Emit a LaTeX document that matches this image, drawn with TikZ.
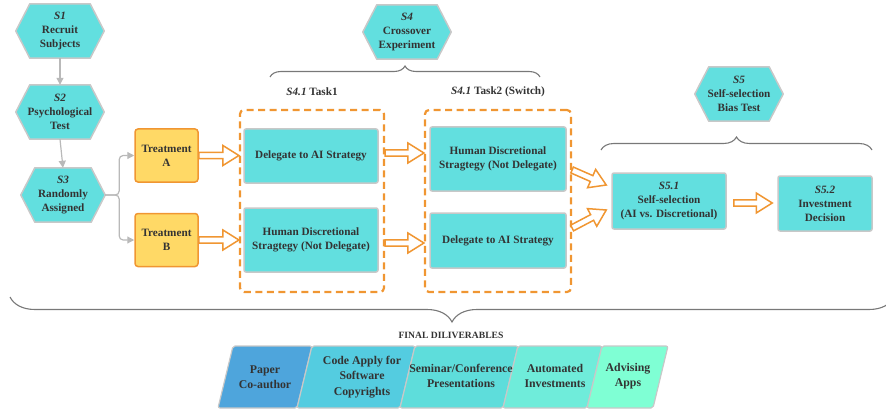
\documentclass[tikz,border=0pt]{standalone}
\usepackage{fontspec}
\setmainfont{Liberation Serif}
\usetikzlibrary{calc,decorations.pathreplacing,backgrounds,arrows.meta}

\definecolor{cyanfill}{RGB}{98,223,223}
\definecolor{bordergray}{RGB}{200,200,200}
\definecolor{txt}{RGB}{51,51,51}
\definecolor{orng}{RGB}{240,150,50}
\definecolor{yel}{RGB}{255,217,102}
\definecolor{conngray}{RGB}{185,185,185}
\definecolor{brgray}{RGB}{120,120,120}
\definecolor{pA}{RGB}{78,165,220}
\definecolor{pB}{RGB}{84,204,224}
\definecolor{pC}{RGB}{94,221,219}
\definecolor{pD}{RGB}{111,236,218}
\definecolor{pE}{RGB}{127,255,212}

\newcommand{\myhex}[4]{%
  \node[hexbox, minimum width=#2] (#1) at (#3) {#4};
  \begin{pgfonlayer}{background}
    \draw[hexdraw] (#1.west) -- ([xshift=14pt]#1.north west) -- ([xshift=-14pt]#1.north east)
      -- (#1.east) -- ([xshift=-14pt]#1.south east) -- ([xshift=14pt]#1.south west) -- cycle;
  \end{pgfonlayer}}

\newcommand{\harr}[2]{%
  \coordinate (hc) at ($(#2)!16pt!(#1)$);
  \draw[harrow] ($(#1)!3.2pt!90:(#2)$) -- ($(hc)!3.2pt!90:(#2)$) -- ($(hc)!10pt!90:(#2)$)
    -- (#2) -- ($(hc)!10pt!-90:(#2)$) -- ($(hc)!3.2pt!-90:(#2)$) -- ($(#1)!3.2pt!-90:(#2)$) -- cycle;}

\tikzset{
  every node/.style={text=txt, font=\bfseries\fontsize{11.2}{14}\selectfont},
  hexbox/.style={minimum height=54pt, inner sep=0pt, align=center},
  hexdraw/.style={fill=cyanfill, draw=bordergray, line width=1.5pt, line join=round},
  cbox/.style={fill=cyanfill, draw=bordergray, line width=1.5pt, rounded corners=2pt, align=center, inner sep=0pt},
  treat/.style={fill=yel, draw=orng, line width=1.5pt, rounded corners=3pt, align=center,
    minimum width=63pt, minimum height=53pt, inner sep=0pt},
  dashbox/.style={draw=orng, line width=2.2pt, dash pattern=on 7pt off 4.5pt, rounded corners=4pt, inner sep=0pt},
  garrow/.style={draw=conngray, line width=1.2pt, rounded corners=4pt, -{Triangle[length=7pt,width=7pt]}},
  harrow/.style={draw=orng, fill=white, line width=1.5pt, line join=miter},
  brc/.style={draw=brgray, line width=1.1pt, decorate, decoration={brace, amplitude=#1}},
  tasklbl/.style={font=\bfseries\fontsize{11.2}{14}\selectfont},
  para/.style={draw=bordergray, line width=1.2pt, rounded corners=2pt},
  ptext/.style={align=center, font=\bfseries\fontsize{11.8}{15.5}\selectfont}
}

\begin{document}
\begin{tikzpicture}[x=1pt,y=-1pt]
\useasboundingbox (0,0) rectangle (886,409);

% hexagons
\myhex{s1}{88pt}{60,31}{\textit{S1}\\Recruit\\Subjects}
\myhex{s2}{88pt}{60,112}{\textit{S2}\\Psychological\\Test}
\myhex{s3}{84pt}{63,195}{\textit{S3}\\Randomly\\Assigned}
\myhex{s4}{88pt}{407,32}{\textit{S4}\\Crossover\\Experiment}
\myhex{s5}{88pt}{739,94}{\textit{S5}\\Self-selection\\Bias Test}

% gray connectors
\draw[garrow] (s1.south) -- (s2.north);
\draw[garrow] (s2.south) -- (s3.north);

% treatments
\node[treat] (tA) at (166.5,155.5) {Treatment\\A};
\node[treat] (tB) at (166.5,240) {Treatment\\B};
\draw[garrow] (s3.east) -- ++(14,0) |- (tA.west);
\draw[garrow] (s3.east) -- ++(14,0) |- (tB.west);

% dashed task boxes
\node[dashbox, minimum width=144pt, minimum height=182pt] (box1) at (312,201) {};
\node[dashbox, minimum width=146pt, minimum height=182pt] (box2) at (498,201) {};
\node[tasklbl] (t1lbl) at (312,92) {\textit{S4.1} Task1};
\node[tasklbl] (t2lbl) at (498,92) {\textit{S4.1} Task2 (Switch)};

% inner boxes
\node[cbox, minimum width=134pt, minimum height=54pt] (d1) at (311,156) {Delegate to AI Strategy};
\node[cbox, minimum width=134pt, minimum height=64pt] (h1) at (311,240) {Human Discretional\\Stragtegy (Not Delegate)};
\node[cbox, minimum width=136pt, minimum height=64pt] (h2) at (498,159) {Human Discretional\\Stragtegy (Not Delegate)};
\node[cbox, minimum width=136pt, minimum height=55pt] (d2) at (498,240.5) {Delegate to AI Strategy};

% S5 boxes
\node[cbox, minimum width=114pt, minimum height=56pt] (s51) at (669,201) {\textit{S5.1}\\Self-selection\\(AI vs. Discretional)};
\node[cbox, minimum width=94pt, minimum height=55pt] (s52) at (825,203.5) {\textit{S5.2}\\Investment\\Decision};

% hollow arrow end points
\coordinate (a1s) at (tA.east);
\coordinate (a1e) at (tA.east -| box1.west);
\coordinate (a2s) at (tB.east);
\coordinate (a2e) at (tB.east -| box1.west);
\coordinate (a3s) at ($(box1.east)+(0,-48)$);
\coordinate (a3e) at ($(box2.west)+(0,-48)$);
\coordinate (a4s) at ($(box1.east)+(0,42)$);
\coordinate (a4e) at ($(box2.west)+(0,42)$);
\coordinate (a5s) at ($(box2.east)+(0,-31)$);
\coordinate (a5e) at ($(s51.west)+(-5,-16)$);
\coordinate (a6s) at ($(box2.east)+(0,27)$);
\coordinate (a6e) at ($(s51.west)+(-5,9)$);
\coordinate (a7s) at ($(s51.east)+(7,2)$);
\coordinate (a7e) at ($(s52.west)+(-5,-0.5)$);

\harr{a1s}{a1e}
\harr{a2s}{a2e}
\harr{a3s}{a3e}
\harr{a4s}{a4e}
\harr{a5s}{a5e}
\harr{a6s}{a6e}
\harr{a7s}{a7e}

% braces
\draw[brc=11] (270,77) -- (540,77);
\draw[brc=13] (601,150) -- (872,150);
\draw[brc=25] (894,297) -- (10,297);

\node[font=\bfseries\fontsize{9.6}{11}\selectfont] (fin) at (451,335) {FINAL DILIVERABLES};

% deliverables
\draw[para, fill=pA] (218,408) -- (233,346) -- (312,346) -- (297,408) -- cycle;
\draw[para, fill=pB] (297,408) -- (312,346) -- (415,346) -- (400,408) -- cycle;
\draw[para, fill=pC] (400,408) -- (415,346) -- (518,346) -- (503,408) -- cycle;
\draw[para, fill=pD] (503,408) -- (518,346) -- (602,346) -- (587,408) -- cycle;
\draw[para, fill=pE] (587,408) -- (602,346) -- (668,346) -- (653,408) -- cycle;
\node[ptext] (dl1) at (265,377) {Paper\\Co-author};
\node[ptext] (dl2) at (362,377) {Code Apply for\\Software\\Copyrights};
\node[ptext] (dl3) at (461,376) {Seminar/Conference\\Presentations};
\node[ptext] (dl4) at (555,376) {Automated\\Investments};
\node[ptext] (dl5) at (628,376) {Advising\\Apps};
\end{tikzpicture}
\end{document}
